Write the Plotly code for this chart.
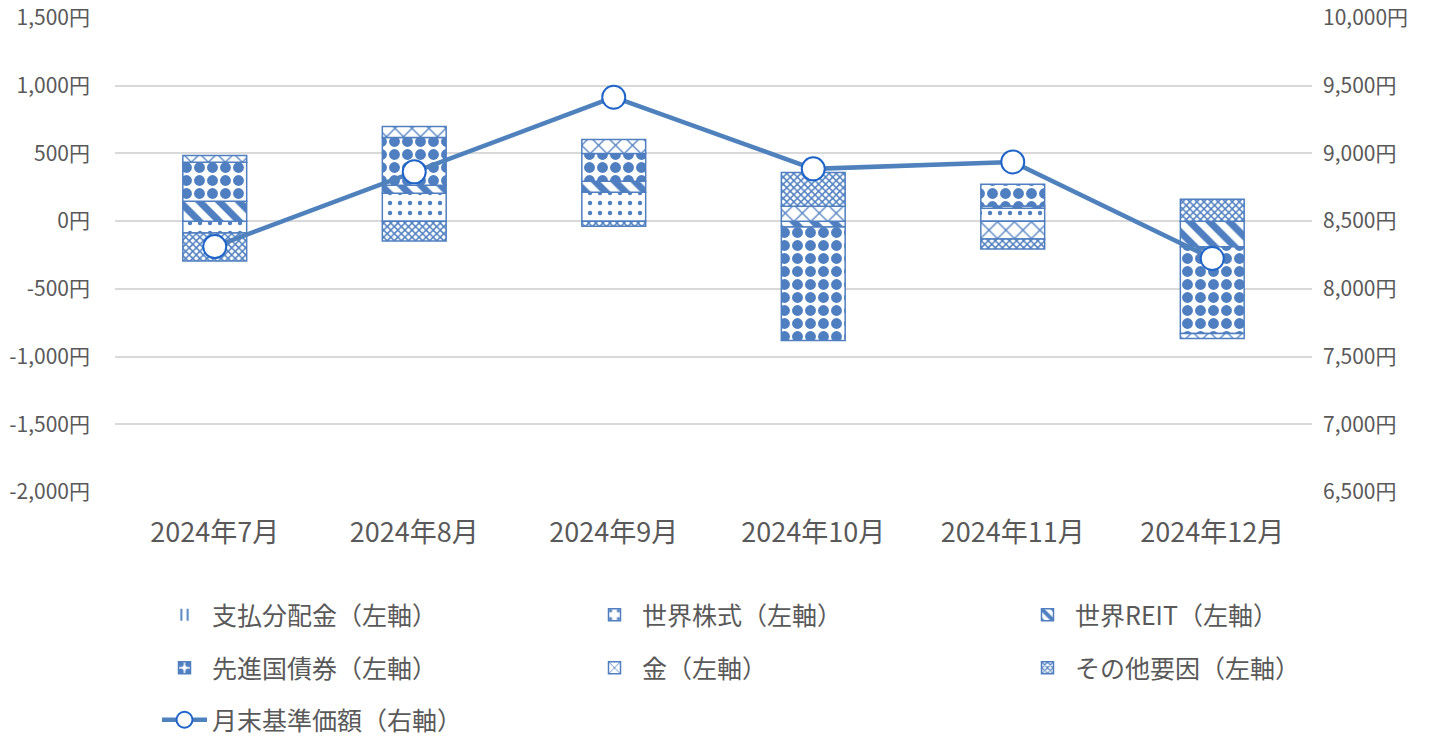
import plotly.graph_objects as go

months = ["2024年7月", "2024年8月", "2024年9月", "2024年10月", "2024年11月", "2024年12月"]
dividend = [0, 0, 0, 0, 0, 0]
world_stock = [-88, 206, 213, None, 96, None]
world_reit = [147, 59, 81, -44, 15, -190]
dev_bond = [287, 353, 206, -838, 162, -640]
gold = [51, 81, 103, 110, -132, -37]
other = [-206, -147, -37, 250, -74, 162]
nav = [8312, 8864, 9415, 8886, 8937, 8224]

left_ticks = [1500, 1000, 500, 0, -500, -1000, -1500, -2000]
right_ticks = [10000, 9500, 9000, 8500, 8000, 7500, 7000, 6500]

BLUE = "#4F7FC0"
FONT = "Noto Sans CJK JP"
GREY = "#595959"

fig = go.Figure()

def bar(name, vals, shape, size, solidity, legend, lw=1.5):
    fig.add_trace(go.Bar(
        x=months, y=vals, name=name, legend=legend,
        marker=dict(color="white",
                    line=dict(color=BLUE, width=lw),
                    pattern=dict(shape=shape, fgcolor=BLUE, bgcolor="white",
                                 size=size, solidity=solidity,
                                 fillmode="overlay", fgopacity=1)),
        hoverinfo="skip"))

bar("支払分配金（左軸）", dividend, "|", 8, 0.3, "legend", lw=0)
bar("世界株式（左軸）", world_stock, ".", 10, 0.15, "legend2")
bar("世界REIT（左軸）", world_reit, "\\", 14, 0.5, "legend3")
bar("先進国債券（左軸）", dev_bond, ".", 13, 0.55, "legend4")
bar("金（左軸）", gold, "x", 12, 0.2, "legend5")
bar("その他要因（左軸）", other, "x", 5, 0.5, "legend6")

fig.add_trace(go.Scatter(
    x=months, y=nav, name="月末基準価額（右軸）", yaxis="y2", legend="legend7",
    mode="lines+markers",
    line=dict(color="#4F81BD", width=4.5),
    marker=dict(size=23, color="white", line=dict(color="#1F64C8", width=2)),
))

legend_common = dict(orientation="h", xref="container", yref="container",
                     xanchor="left", yanchor="middle",
                     font=dict(family=FONT, size=25, color=GREY),
                     bgcolor="rgba(0,0,0,0)", itemwidth=45)

col_x = [157, 587, 1020]
row_y = [615, 668, 720]
legends = {}
for i in range(7):
    key = "legend" if i == 0 else f"legend{i + 1}"
    legends[key] = dict(**legend_common, x=col_x[i % 3] / 1437, y=1 - row_y[i // 3] / 740)

fig.update_layout(
    width=1437, height=740,
    margin=dict(l=115, r=125, t=18, b=248, autoexpand=False),
    paper_bgcolor="white", plot_bgcolor="white",
    barmode="relative", bargap=0.68,
    showlegend=True,
    font=dict(family=FONT, color=GREY),
    xaxis=dict(showgrid=False, showline=False, ticks="",
               tickfont=dict(family=FONT, size=27, color=GREY),
               ticklabelstandoff=22),
    yaxis=dict(range=[-2000, 1500], tickvals=left_ticks,
               ticktext=[f"{v:,}円" for v in left_ticks],
               showgrid=True, gridcolor="#D9D9D9", gridwidth=1.5,
               zeroline=True, zerolinecolor="#D9D9D9", zerolinewidth=1.5,
               showline=False, ticks="", ticklabelstandoff=24,
               tickfont=dict(family=FONT, size=21, color=GREY)),
    yaxis2=dict(range=[6500, 10000], tickvals=right_ticks,
                ticktext=[f"{v:,}円" for v in right_ticks],
                overlaying="y", side="right", showgrid=False, zeroline=False,
                showline=False, ticks="", ticklabelstandoff=10,
                tickfont=dict(family=FONT, size=21, color=GREY)),
    **legends,
)

fig.write_html("out.html", config={"displayModeBar": False},
               post_script="document.body.style.margin='0';")
